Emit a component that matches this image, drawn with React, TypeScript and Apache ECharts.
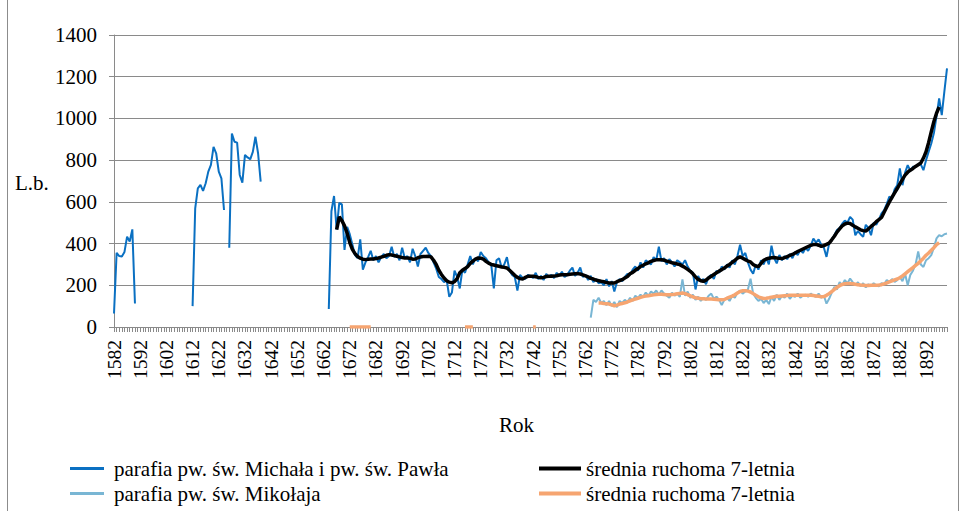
import React, { useEffect, useRef } from "react";
import * as echarts from "echarts";

// ---- categories (years) ----
const firstYear = 1582;
const lastYear = 1900;
const years: string[] = [];
for (let y = firstYear; y <= lastYear; y++) years.push(String(y));

// ---- parafia pw. św. Michała i pw. św. Pawła (segments with start year) ----
const michalStart1 = 1582;
const michal1 = [65, 356, 340, 338, 360, 433, 410, 468, 113];
const michalStart2 = 1612;
const michal2 = [100, 569, 665, 681, 653, 689, 745, 777, 864, 833, 745, 713, 561];
const michalStart3 = 1626;
const michal3 = [380, 928, 888, 884, 729, 692, 825, 813, 804, 840, 912, 833, 697];
const michalStart4 = 1664;
const michal4 = [
  86, 555, 628, 468, 595, 588,
  370, 480, 445, 395, 345, 330, 420, 275, 310, 335,
  365, 320, 340, 310, 335, 350, 330, 340, 385, 335,
  350, 320, 380, 330, 340, 310, 375, 340, 290, 350,
  365, 380, 355, 340, 310, 280, 240, 230, 215, 225,
  145, 165, 270, 240, 185, 275, 260, 300, 340, 300,
  330, 315, 360, 340, 330, 310, 300, 185, 320, 330,
  285, 300, 335, 270, 250, 240, 175, 250, 235, 230,
  250, 245, 235, 260, 230, 245, 225, 255, 240, 250,
  235, 260, 245, 265, 240, 250, 270, 285, 245, 260,
  285, 240, 250, 225, 245, 215, 230, 210, 215, 200,
  230, 195, 220, 170, 215, 230, 220, 240, 255, 250,
  275, 290, 270, 310, 285, 320, 310, 300, 335, 320,
  385, 315, 330, 300, 325, 310, 290, 320, 310, 300,
  320, 290, 270, 260, 180, 245, 220, 230, 205, 240,
  250, 230, 270, 260, 290, 275, 300, 285, 320, 300,
  340, 395, 340, 355, 310, 275, 255, 300, 275, 320,
  300, 330, 300, 390, 330, 305, 345, 320, 340, 325,
  350, 330, 360, 345, 370, 355, 380, 365, 390, 424,
  405, 420, 395, 380, 336, 400, 420, 440, 465, 475,
  495, 510, 500, 528, 515, 440, 460, 445, 432, 490,
  475, 440, 500, 490, 515, 545, 560, 590, 625, 615,
  660, 680, 760, 680, 740, 776, 750, 768, 770, 776,
  780, 752, 800, 840, 880, 930, 1010, 1096, 1016, 1130,
  1240,
];

// ---- średnia ruchoma 7-letnia (Michał i Paweł) ----
const michalAvgStart = 1667;
const michalAvg = [
  467, 528, 510,
  485, 450, 405, 372, 352, 338, 330, 325, 323, 325,
  326, 326, 328, 331, 335, 339, 344, 347, 345, 342,
  339, 336, 333, 331, 331, 330, 325, 326, 332, 336,
  338, 338, 339, 336, 320, 300, 272, 252, 235, 222,
  215, 212, 217, 232, 260, 272, 280, 290, 305, 316,
  326, 331, 330, 325, 315, 306, 300, 297, 294, 291,
  288, 286, 283, 272, 260, 248, 238, 232, 230, 238,
  243, 243, 243, 241, 238, 236, 238, 242, 243, 243,
  244, 246, 249, 251, 251, 251, 253, 254, 255, 256,
  254, 250, 245, 240, 233, 230, 225, 222, 219, 217,
  213, 211, 211, 211, 217, 222, 227, 235, 242, 255,
  262, 272, 280, 290, 296, 303, 308, 315, 319, 322,
  323, 323, 320, 316, 312, 308, 306, 302, 299, 292,
  285, 276, 267, 255, 240, 228, 222, 219, 225, 235,
  243, 252, 260, 268, 275, 283, 292, 300, 310, 320,
  330, 336, 330, 323, 316, 312, 300, 292, 290, 305,
  320, 326, 330, 332, 333, 331, 329, 328, 333, 338,
  343, 348, 355, 362, 368, 374, 380, 386, 392, 395,
  396, 392, 387, 390, 396, 402, 418, 435, 455, 470,
  485, 494, 498, 496, 488, 480, 473, 466, 462, 460,
  470, 482, 492, 505, 515, 525, 550, 575, 600, 622,
  643, 664, 686, 708, 728, 742, 752, 760, 770, 778,
  786, 810, 840, 885, 936, 985, 1025, 1055,
];

// ---- parafia pw. św. Mikołaja ----
const mikolajStart = 1764;
const mikolaj = [
  45, 130, 120, 140, 115, 125,
  105, 125, 100, 120, 95, 125, 115, 130, 120, 140,
  125, 150, 140, 155, 145, 165, 150, 170, 160, 175,
  155, 175, 160, 150, 140, 165, 150, 160, 145, 228,
  150, 170, 140, 155, 130, 145, 125, 140, 130, 150,
  160, 135, 145, 130, 105, 130, 140, 125, 150, 140,
  165, 175, 160, 170, 180, 232, 160, 140, 125, 135,
  115, 130, 110, 145, 125, 155, 130, 150, 140, 160,
  135, 150, 145, 160, 140, 150, 155, 145, 160, 150,
  145, 160, 140, 150, 112, 135, 165, 192, 180, 215,
  200, 225, 210, 232, 215, 200, 215, 195, 210, 190,
  205, 195, 210, 200, 195, 210, 205, 225, 215, 230,
  216, 225, 240, 220, 255, 200, 250, 270, 300, 362,
  300, 288, 320, 330, 345, 380, 425, 440, 435, 445,
  448,
];

// ---- średnia ruchoma 7-letnia (Mikołaj) ----
const mikolajAvgZeroStart1 = 1672;
const mikolajAvgZero1 = [0, 0, 0, 0, 0, 0, 0, 0, 0];
const mikolajAvgZeroStart2 = 1716;
const mikolajAvgZero2 = [0, 0, 0, 0];
const mikolajAvgZeroStart3 = 1742;
const mikolajAvgZero3 = [0, 0];
const mikolajAvgStart = 1767;
const mikolajAvg = [
  115, 115, 113,
  112, 110, 106, 102, 105, 110, 113, 116, 120, 125,
  130, 134, 138, 142, 146, 148, 150, 152, 154, 156,
  157, 157, 156, 155, 155, 156, 157, 159, 161, 163,
  160, 155, 149, 145, 140, 138, 136, 135, 134, 134,
  134, 133, 132, 131, 131, 132, 138, 143, 148, 155,
  163, 170, 174, 174, 172, 168, 160, 152, 145, 140,
  137, 138, 140, 143, 145, 147, 148, 149, 150, 151,
  152, 152, 152, 152, 152, 152, 152, 152, 152, 151,
  149, 147, 145, 146, 152, 160, 170, 180, 190, 198,
  204, 207, 208, 208, 207, 205, 203, 201, 200, 199,
  199, 200, 200, 200, 201, 203, 207, 211, 216, 221,
  226, 230, 236, 245, 255, 265, 275, 285, 295, 305,
  317, 330, 344, 355, 368, 380, 395, 405,
];

const yTicksMax = 1400;
const yTickStep = 200;

const NAME_MICHAL = "parafia pw. św. Michała i pw. św. Pawła";
const NAME_MIKOLAJ = "parafia pw. św. Mikołaja";
const NAME_AVG = "średnia ruchoma 7-letnia";
const NAME_AVG_A = "avgMichal";
const NAME_AVG_B = "avgMikolaj";

function place(segments: [number, number[]][]): (number | null)[] {
  const out: (number | null)[] = years.map(() => null);
  segments.forEach(([start, vals]) => {
    vals.forEach((v, i) => {
      const idx = start - firstYear + i;
      if (idx >= 0 && idx < out.length) out[idx] = v;
    });
  });
  return out;
}

const FONT = "Liberation Serif";
const GRID_COLOR = "#8a8a8a";

export default function App() {
  const ref = useRef<HTMLDivElement>(null);

  useEffect(() => {
    document.body.style.margin = "0";
    if (!ref.current) return;
    const chart = echarts.init(ref.current, null, { renderer: "svg" });

    const blue = "#0a70c2";
    const lightBlue = "#79b6d4";
    const black = "#000000";
    const orange = "#f6a571";

    const legendText = {
      fontFamily: FONT,
      fontSize: 21,
      color: "#000",
    };
    const fmt = (name: string) =>
      name === NAME_AVG_A || name === NAME_AVG_B ? NAME_AVG : name;

    const option: any = {
      animation: false,
      backgroundColor: "#ffffff",
      textStyle: { fontFamily: FONT },
      grid: { left: 114, right: 16, top: 35, bottom: 184, containLabel: false },
      xAxis: {
        type: "category",
        data: years,
        boundaryGap: false,
        axisLine: { show: true, lineStyle: { color: GRID_COLOR, width: 1 } },
        axisTick: {
          show: true,
          interval: 0,
          length: 5,
          lineStyle: { color: GRID_COLOR, width: 1 },
        },
        axisLabel: {
          interval: 9,
          rotate: 90,
          fontFamily: FONT,
          fontSize: 19.5,
          color: "#000",
          margin: 13,
        },
        splitLine: { show: false },
      },
      yAxis: {
        type: "value",
        min: 0,
        max: yTicksMax,
        interval: yTickStep,
        axisLine: { show: true, lineStyle: { color: GRID_COLOR, width: 1 } },
        axisTick: { show: true, length: 5, lineStyle: { color: GRID_COLOR } },
        axisLabel: {
          fontFamily: FONT,
          fontSize: 21,
          color: "#000",
          margin: 17,
          formatter: (v: number) => String(v),
        },
        splitLine: { show: true, lineStyle: { color: GRID_COLOR, width: 1.2 } },
      },
      legend: [
        {
          data: [NAME_MICHAL],
          left: 65,
          top: 453,
          icon: "rect",
          itemWidth: 34,
          itemHeight: 3,
          formatter: fmt,
          textStyle: { ...legendText, padding: [0, 0, 0, 5] },
        },
        {
          data: [NAME_MIKOLAJ],
          left: 65,
          top: 478,
          icon: "rect",
          itemWidth: 34,
          itemHeight: 3,
          formatter: fmt,
          textStyle: { ...legendText, padding: [0, 0, 0, 5] },
        },
        {
          data: [NAME_AVG_A],
          left: 534,
          top: 453,
          icon: "rect",
          itemWidth: 42,
          itemHeight: 4,
          formatter: fmt,
          textStyle: legendText,
        },
        {
          data: [NAME_AVG_B],
          left: 534,
          top: 478,
          icon: "rect",
          itemWidth: 42,
          itemHeight: 4,
          formatter: fmt,
          textStyle: legendText,
        },
      ],
      graphic: [
        {
          type: "rect",
          shape: { x: 7.5, y: -5, width: 951, height: 525 },
          style: { fill: "none", stroke: "#8c8c8c", lineWidth: 1 },
          silent: true,
        },
        {
          type: "text",
          left: 15,
          top: 172,
          style: { text: "L.b.", font: `21px ${FONT}`, fill: "#000" },
        },
        {
          type: "text",
          left: 499,
          top: 414,
          style: { text: "Rok", font: `21px ${FONT}`, fill: "#000" },
        },
      ],
      series: [
        {
          name: NAME_MICHAL,
          type: "line",
          data: place([
            [michalStart1, michal1],
            [michalStart2, michal2],
            [michalStart3, michal3],
            [michalStart4, michal4],
          ]),
          showSymbol: false,
          symbol: "none",
          connectNulls: false,
          color: blue,
          itemStyle: { color: blue },
          lineStyle: { color: blue, width: 2 },
          z: 2,
        },
        {
          name: NAME_MIKOLAJ,
          type: "line",
          data: place([[mikolajStart, mikolaj]]),
          showSymbol: false,
          symbol: "none",
          connectNulls: false,
          color: lightBlue,
          itemStyle: { color: lightBlue },
          lineStyle: { color: lightBlue, width: 2 },
          z: 2,
        },
        {
          name: NAME_AVG_A,
          type: "line",
          data: place([[michalAvgStart, michalAvg]]),
          showSymbol: false,
          symbol: "none",
          connectNulls: false,
          color: black,
          itemStyle: { color: black },
          lineStyle: { color: black, width: 3.5 },
          z: 3,
        },
        {
          name: NAME_AVG_B,
          type: "line",
          data: place([
            [mikolajAvgZeroStart1, mikolajAvgZero1],
            [mikolajAvgZeroStart2, mikolajAvgZero2],
            [mikolajAvgZeroStart3, mikolajAvgZero3],
            [mikolajAvgStart, mikolajAvg],
          ]),
          showSymbol: false,
          symbol: "none",
          connectNulls: false,
          color: orange,
          itemStyle: { color: orange },
          lineStyle: { color: orange, width: 3.5 },
          z: 3,
        },
      ],
    };

    chart.setOption(option);
    return () => chart.dispose();
  }, []);

  return <div ref={ref} style={{ width: 963, height: 511 }} />;
}
